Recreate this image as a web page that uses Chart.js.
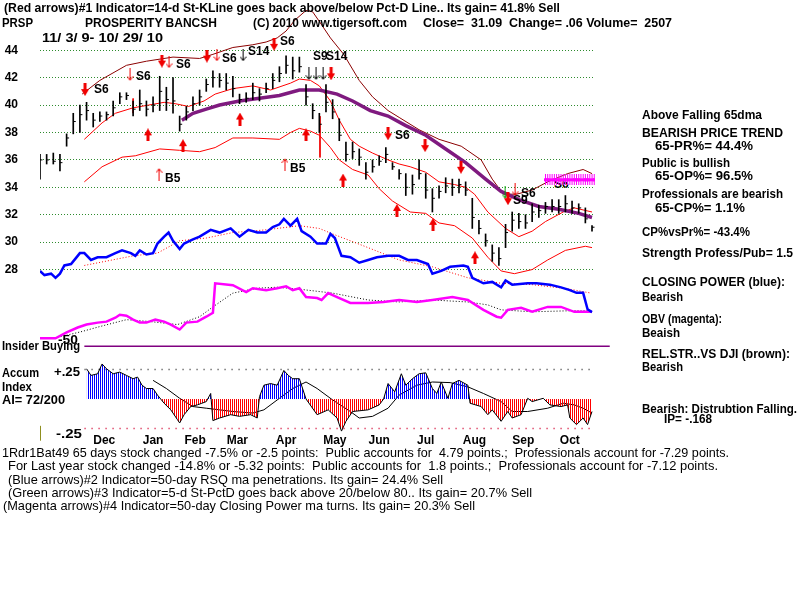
<!DOCTYPE html>
<html>
<head>
<meta charset="utf-8">
<script src="https://cdn.jsdelivr.net/npm/chart.js@4/dist/chart.umd.min.js"></script>
<style>
  body { margin: 0; background: #fff; }
  #wrap { position: relative; width: 800px; height: 600px; overflow: hidden; font-family: "Liberation Sans", Arial, sans-serif; }
  #chart { position: absolute; left: 0; top: 0; }
  .t { position: absolute; white-space: pre; font-weight: bold; font-size: 13px; line-height: 13px; color: #000; transform-origin: 0 0; }
  .n { font-weight: normal; font-family: "Liberation Sans Narrow", "Liberation Sans", sans-serif; }
  .lab { font-size: 12px; }
</style>
</head>
<body>
<div id="wrap">
  <div class="t lab" style="left:554px;top:178px">S6</div>
  <canvas id="chart" width="800" height="600"></canvas>

  <div class="t" style="left:4px;top:1px" data-w="556">(Red arrows)#1 Indicator=14-d St-KLine goes back above/below Pct-D Line.. Its gain= 41.8% Sell</div>
  <div class="t" style="left:2px;top:16px" data-w="31">PRSP</div>
  <div class="t" style="left:85px;top:16px" data-w="132">PROSPERITY BANCSH</div>
  <div class="t" style="left:253px;top:16px" data-w="154">(C) 2010 www.tigersoft.com</div>
  <div class="t" style="left:423px;top:16px" data-w="249">Close=  31.09  Change= .06 Volume=  2507</div>
  <div class="t" style="left:42px;top:31px" data-w="121">11/ 3/ 9- 10/ 29/ 10</div>

  <div class="t" style="left:642px;top:108px" data-w="120">Above Falling 65dma</div>
  <div class="t" style="left:642px;top:126px" data-w="141">BEARISH PRICE TREND</div>
  <div class="t" style="left:655px;top:139px" data-w="98">65-PR%= 44.4%</div>
  <div class="t" style="left:642px;top:156px" data-w="88">Public is bullish</div>
  <div class="t" style="left:655px;top:169px" data-w="98">65-OP%= 96.5%</div>
  <div class="t" style="left:642px;top:187px" data-w="141">Professionals are bearish</div>
  <div class="t" style="left:655px;top:201px" data-w="90">65-CP%= 1.1%</div>
  <div class="t" style="left:642px;top:225px" data-w="108">CP%vsPr%= -43.4%</div>
  <div class="t" style="left:642px;top:246px" data-w="151">Strength Profess/Pub= 1.5</div>
  <div class="t" style="left:642px;top:275px" data-w="143">CLOSING POWER (blue):</div>
  <div class="t" style="left:642px;top:290px" data-w="41">Bearish</div>
  <div class="t" style="left:642px;top:312px" data-w="80">OBV (magenta):</div>
  <div class="t" style="left:642px;top:326px" data-w="38">Beaish</div>
  <div class="t" style="left:642px;top:347px" data-w="148">REL.STR..VS DJI (brown):</div>
  <div class="t" style="left:642px;top:360px" data-w="41">Bearish</div>
  <div class="t" style="left:642px;top:402px" data-w="155">Bearish: Distrubtion Falling.</div>
  <div class="t" style="left:664px;top:412px" data-w="48">IP= -.168</div>

  <div class="t" style="left:2px;top:339px" data-w="78">Insider Buying</div>
  <div class="t" style="left:58px;top:333px" data-w="20">-50</div>
  <div class="t" style="left:2px;top:366px" data-w="37">Accum</div>
  <div class="t" style="left:2px;top:380px" data-w="30">Index</div>
  <div class="t" style="left:2px;top:393px" data-w="63">AI= 72/200</div>
  <div class="t" style="left:54px;top:365px" data-w="26">+.25</div>
  <div class="t" style="left:56px;top:427px" data-w="26">-.25</div>

  <div class="t n" style="left:2px;top:446px" data-w="727">1Rdr1Bat49 65 days stock changed -7.5% or -2.5 points:  Public accounts for  4.79 points.;  Professionals account for -7.29 points.</div>
  <div class="t n" style="left:8px;top:459px" data-w="710">For Last year stock changed -14.8% or -5.32 points:  Public accounts for  1.8 points.;  Professionals account for -7.12 points.</div>
  <div class="t n" style="left:8px;top:473px" data-w="435">(Blue arrows)#2 Indicator=50-day RSQ ma penetrations. Its gain= 24.4% Sell</div>
  <div class="t n" style="left:8px;top:486px" data-w="524">(Green arrows)#3 Indicator=5-d St-PctD goes back above 20/below 80.. Its gain= 20.7% Sell</div>
  <div class="t n" style="left:3px;top:499px" data-w="472">(Magenta arrows)#4 Indicator=50-day Closing Power ma turns. Its gain= 20.3% Sell</div>

  <div class="t lab" style="left:94px;top:83px">S6</div>
  <div class="t lab" style="left:136px;top:70px">S6</div>
  <div class="t lab" style="left:176px;top:58px">S6</div>
  <div class="t lab" style="left:222px;top:52px">S6</div>
  <div class="t lab" style="left:248px;top:45px">S14</div>
  <div class="t lab" style="left:280px;top:35px">S6</div>
  <div class="t lab" style="left:313px;top:50px">S9</div>
  <div class="t lab" style="left:326px;top:50px">S14</div>
  <div class="t lab" style="left:395px;top:129px">S6</div>
  <div class="t lab" style="left:521px;top:187px">S6</div>
  <div class="t lab" style="left:513px;top:194px">S9</div>
  <div class="t lab" style="left:165px;top:172px">B5</div>
  <div class="t lab" style="left:290px;top:162px">B5</div>
</div>

<script>
// price bars, one every 3 trading days starting 11/3/09
const DAY_STEP = 3;
const barHigh = [36.4,36.4,36.5,36.4,37.9,39.4,40.0,40.2,39.4,39.5,39.5,40.3,40.9,40.9,40.3,41.1,40.3,40.6,42.1,41.3,
  42.0,39.2,39.9,40.6,41.1,41.9,42.5,42.3,42.3,42.1,40.8,40.9,41.6,41.2,41.6,42.3,42.8,43.6,43.5,43.5,
  41.5,40.1,39.4,41.5,40.4,39.0,37.3,37.3,36.8,35.8,36.0,36.3,36.9,35.8,35.3,35.0,34.9,36.0,35.0,33.9,
  34.1,34.7,34.6,34.6,34.4,33.2,31.6,30.6,29.8,29.6,31.3,32.2,32.1,32.0,32.8,32.7,32.9,33.1,33.1,33.4,
  33.0,32.8,32.5,31.2];
const barLow = [34.6,35.7,35.7,35.2,37.0,37.9,38.0,38.9,38.4,38.8,38.9,39.2,40.1,40.4,39.2,39.6,39.2,39.5,39.6,39.6,
  39.4,38.1,38.9,39.6,40.0,41.0,41.3,41.3,41.1,40.6,40.1,40.2,40.4,40.3,40.9,41.2,41.7,42.3,41.9,42.4,
  40.0,39.0,38.0,39.5,39.0,37.4,35.9,36.1,35.6,34.6,35.1,35.6,35.8,35.3,34.6,33.4,33.5,34.6,33.2,32.2,
  33.2,33.6,33.4,33.6,33.4,31.0,30.6,29.7,28.6,28.3,29.6,30.8,31.0,31.0,31.5,31.8,32.1,32.2,32.1,32.2,
  32.1,32.1,31.4,30.8];
const barClose = [36.0,36.0,35.9,35.8,37.6,38.8,39.3,39.6,38.9,39.2,39.3,39.8,40.6,40.7,39.7,40.1,39.7,40.0,41.0,40.4,
  40.3,38.6,39.5,40.1,40.6,41.5,42.0,41.8,41.6,41.2,40.4,40.5,40.9,40.8,41.2,41.8,42.3,42.9,42.5,42.8,
  40.6,39.6,38.6,40.2,39.5,37.8,36.4,36.6,36.2,35.1,35.5,35.9,36.4,35.5,35.0,34.0,34.2,35.0,33.8,33.2,
  33.7,34.1,34.0,34.2,33.8,31.8,31.0,30.1,29.2,28.8,30.7,31.6,31.5,31.4,32.2,32.3,32.6,32.6,32.6,32.8,
  32.5,32.5,31.7,31.09];

const upperDays = [19,27,39,48,60,72,78,87,96,102,107,111,115,120,123,126,131,137,144,150,157,162,171,180,190,199,204,209,215,222,229,238,245,249];
const upperVals = [40.8,41.8,42.9,43.2,43.5,43.4,43.7,44.2,44.4,44.6,44.9,45.4,46.2,46.9,46.8,46.1,44.9,43.7,41.8,40.6,39.6,39.1,38.2,37.5,37.0,36.0,34.6,33.5,33.5,33.8,34.4,35.0,35.3,35.0];
const midDays = [20,28,34,42,49,56,61,67,74,79,87,96,104,113,117,122,126,131,135,140,144,150,157,162,167,174,180,187,192,196,202,210,216,222,228,236,241,249];
const midVals = [37.5,38.7,39.4,39.8,40.0,40.2,40.1,39.9,40.3,40.8,41.2,41.4,41.1,41.6,41.9,41.8,41.4,40.3,38.9,37.5,37.0,36.5,36.0,35.7,35.5,35.1,34.4,34.2,34.0,33.5,32.2,31.0,30.4,30.8,31.5,32.2,32.5,32.2];
const lowerDays = [20,28,37,43,54,63,72,79,87,96,108,113,117,122,126,131,135,141,148,153,159,167,174,180,187,195,202,208,214,222,229,237,246,249];
const lowerVals = [34.4,35.5,36.2,36.3,36.8,36.7,36.6,36.9,37.6,37.6,37.5,38.0,38.3,38.1,37.8,36.9,36.0,35.3,34.9,33.9,33.0,32.2,32.1,31.4,31.2,30.3,28.9,27.9,27.7,28.0,28.7,29.4,29.7,29.6];
const ma65Days = [64,69,75,81,90,99,108,117,126,134,141,149,157,165,174,183,192,201,208,216,225,234,243,249];
const ma65Vals = [38.9,39.4,39.7,40.0,40.3,40.5,40.7,41.1,41.1,40.8,40.3,39.6,39.2,38.5,37.8,36.8,35.8,34.6,33.7,33.1,32.6,32.4,32.1,31.8];

// closing power (blue) and its ma
const cpDays = [0,2,5,7,9,11,14,16,18,20,23,26,30,34,37,41,43,45,48,51,53,56,58,60,63,65,69,72,77,81,86,90,94,98,102,105,108,110,113,116,
  118,122,125,129,131,133,136,140,144,148,152,157,162,166,170,175,177,181,185,191,193,195,200,204,208,210,213,220,224,230,235,239,242,245,247,249];
const cpVals = [27.9,27.6,27.7,27.4,27.7,28.3,28.4,28.8,29.2,29.2,28.7,28.9,28.9,29.2,29.4,29.2,29.0,29.4,29.1,29.2,29.9,30.4,30.7,30.1,29.5,29.9,30.2,30.4,30.9,30.7,
  31.0,30.4,30.9,30.7,30.7,31.1,31.3,31.7,31.2,31.7,30.8,30.4,29.9,29.9,30.6,30.3,29.0,28.9,28.5,28.7,28.9,29.0,29.0,28.7,28.7,28.4,27.7,27.9,28.2,28.3,
  28.2,27.4,27.0,27.1,26.7,27.2,26.9,27.0,27.0,26.9,26.7,26.5,26.3,26.3,25.1,24.9];
const cpMaDays = [20,42,53,63,75,87,102,117,126,132,148,162,177,193,208,222,238,248];
const cpMaVals = [28.3,29.0,29.2,30.1,30.3,30.7,30.9,31.2,31.0,30.6,29.6,28.7,28.2,27.4,27.0,26.9,26.6,26.3];

// OBV (magenta) and its ma
const obvDays = [0,7,12,17,21,26,30,34,36,39,42,45,48,52,56,59,63,66,71,75,78,79,87,93,96,102,107,111,114,117,120,125,127,130,134,140,148,155,162,170,177,186,193,200,206,208,211,217,222,229,235,241,249];
const obvVals = [0.6,0.6,1.2,1.7,2.0,2.2,2.3,2.7,3.0,2.9,2.5,2.2,2.2,2.5,2.3,2.0,1.5,2.2,2.3,2.8,3.2,6.2,6.0,5.3,5.7,5.5,5.7,5.9,5.5,5.7,4.8,4.7,4.5,5.2,4.8,4.2,4.2,4.3,4.5,4.3,4.5,4.8,4.5,3.5,2.8,2.7,3.5,3.7,3.3,3.8,3.8,3.3,3.3];
const obvMaDays = [8,19,27,39,50,62,72,78,87,98,107,117,132,148,162,177,193,202,208,222,238,249];
const obvMaVals = [0.7,1.3,1.8,2.5,2.3,2.0,2.8,3.8,5.2,5.7,5.8,5.6,5.2,4.5,4.3,4.5,4.3,4.0,3.5,3.3,3.4,3.4];

// relative strength vs DJI (black) and its ma
const rsDays = [11,17,27,35,41,45,48,53,54,57,60,63,66,72,77,81,87,92,98,105,113,117,122,126,130,135,148,157,159,164,168,175,177,182,190,194,195,202,208,211,220,229,238,244,249];
const rsVals = [52,52,53,54,52,52,51,52,60,57,56,54,56,57,59,57,57,52,53,54,55,49,47,47,52,49,46,43,41,46,42,42,39,36,36,36,30,29,26,30,29,30,29,26,24];
const rsMaDays = [53,72,87,102,117,132,148,162,177,193,208,222,238,249];
const rsMaVals = [52,56,57,56,54,50,47,46,41,34,31,30,30,27];

// accumulation index
const aiDays = [21,23,26,28,30,33,36,39,42,44,46,48,51,53,56,59,62,63,65,68,71,73,75,77,78,81,86,90,95,98,99,101,104,107,110,112,114,117,120,125,
  130,134,136,138,141,148,153,155,157,160,163,165,168,171,174,177,179,181,184,186,189,193,194,199,202,204,208,211,213,217,220,222,227,230,235,238,239,242,245,247,249];
const aiVals = [0.256,0.20,0.214,0.297,0.256,0.214,0.228,0.20,0.172,0.186,0.117,0.089,0.089,0.033,-0.036,-0.092,-0.175,-0.203,-0.133,-0.064,
  -0.05,-0.036,-0.022,0.047,-0.183,-0.161,-0.133,-0.147,-0.133,-0.161,0.02,0.117,0.131,0.117,0.242,0.20,0.172,0.172,0.0,-0.133,
  -0.092,-0.161,-0.272,-0.189,-0.106,-0.092,-0.05,0.0,0.131,0.061,0.214,0.117,0.172,0.214,0.222,0.089,0.047,0.144,0.006,0.131,
  0.158,0.117,-0.036,-0.064,-0.133,-0.092,-0.189,-0.106,-0.161,-0.133,0.006,-0.022,0.006,-0.05,-0.064,-0.05,-0.161,-0.217,-0.161,-0.217,-0.106];
const aiMaDays = [51,57,63,69,75,81,87,96,101,108,114,120,125,132,140,144,150,157,162,170,177,185,193,200,208,213,220,229,236,241,245,249];
const aiMaVals = [0.158,0.089,0.006,-0.064,-0.078,-0.092,-0.106,-0.119,-0.092,0.006,0.089,0.144,0.089,-0.008,-0.106,-0.161,-0.147,-0.078,0.033,0.117,
  0.144,0.139,0.103,0.047,-0.022,-0.106,-0.106,-0.078,-0.036,-0.05,-0.078,-0.119];

// signal arrows (day, price)
const sellDays = [20.3,55.0,75.3,105.6,131.3,157.0,173.7,189.9,211.1];
const sellPrices = [41.13,43.21,43.57,44.43,42.28,37.90,37.04,35.46,33.17];
const thinSellDays = [40.6,58.2,79.8,214.3];
const thinSellPrices = [42.21,43.14,43.64,33.81];
const blackSellDays = [91.6,121.3,124.5,127.7];
const blackSellPrices = [43.64,42.28,42.28,42.28];
const buyDays = [48.7,64.5,90.2,120.0,136.7,161.0,177.3,196.2];
const buyPrices = [37.83,37.04,38.98,37.83,34.53,32.31,31.30,28.86];
const thinBuyDays = [53.7,110.5];
const thinBuyPrices = [34.96,35.68];
const greenDays = [209.8];
const greenPrices = [33.6];
const magentaDays = [228,229,230,231,232,233,234,235,236,237,238,239,240,241,242,243,244,245,246,247,248,249,250];
const magentaPrice = 34.55;

const priceTicks = [28,30,32,34,36,38,40,42,44];
const monthTickDays = [29,51,70,89,111,133,153,174,196,218,239];
const monthLabels = ["Dec","Jan","Feb","Mar","Apr","May","Jun","Jul","Aug","Sep","Oct"];

const pts = (days, vals) => days.map((d, i) => ({ x: d, y: vals[i] }));

function barDaysOf(arr) {
  return arr.map((_, i) => i * DAY_STEP);
}

function arrowImg(color, kind) {
  const c = document.createElement("canvas");
  const g = c.getContext("2d");
  if (kind === "thickDown" || kind === "thickUp") {
    c.width = 8; c.height = 13;
    g.fillStyle = color;
    if (kind === "thickUp") { g.translate(0, 13); g.scale(1, -1); }
    g.fillRect(2.5, 0, 3, 7);
    g.beginPath(); g.moveTo(0, 6); g.lineTo(8, 6); g.lineTo(4, 13); g.closePath(); g.fill();
  } else if (kind === "hatch") {
    c.width = 3; c.height = 11;
    g.fillStyle = color;
    g.fillRect(1, 0, 1, 11);
    g.fillRect(0, 4, 3, 3);
  } else {
    c.width = 7; c.height = 13;
    g.strokeStyle = color; g.lineWidth = 1;
    if (kind === "thinUp") { g.translate(0, 13); g.scale(1, -1); }
    g.beginPath(); g.moveTo(3.5, 0); g.lineTo(3.5, 12);
    g.moveTo(0.5, 8); g.lineTo(3.5, 12); g.lineTo(6.5, 8); g.stroke();
  }
  return c;
}

function stripes(color) {
  const c = document.createElement("canvas");
  c.width = 2; c.height = 4;
  const g = c.getContext("2d");
  g.fillStyle = color;
  g.fillRect(0, 0, 1, 4);
  return g.createPattern(c, "repeat");
}

function marks(days, prices, img) {
  return {
    type: "line", showLine: false, yAxisID: "y",
    data: Array.isArray(prices) ? pts(days, prices) : days.map(d => ({ x: d, y: prices })),
    pointStyle: img, pointRadius: 4
  };
}

function line(days, vals, axis, color, width, dash) {
  return {
    type: "line", yAxisID: axis, data: pts(days, vals),
    borderColor: color, borderWidth: width, borderDash: dash || [],
    pointRadius: 0, fill: false
  };
}

const datasets = [
  marks(sellDays, sellPrices, arrowImg("#f00000", "thickDown")),
  marks(thinSellDays, thinSellPrices, arrowImg("#f00000", "thinDown")),
  marks(blackSellDays, blackSellPrices, arrowImg("#000", "thinDown")),
  marks(buyDays, buyPrices, arrowImg("#f00000", "thickUp")),
  marks(thinBuyDays, thinBuyPrices, arrowImg("#f00000", "thinUp")),
  marks(greenDays, greenPrices, arrowImg("#00a000", "thinDown")),
  marks(magentaDays, magentaPrice, arrowImg("#ff00ff", "hatch")),
  {
    type: "line", showLine: false, yAxisID: "y",
    data: pts(barDaysOf(barClose), barClose),
    pointStyle: "dash", pointRadius: 2.5, pointBorderColor: "#000", pointBorderWidth: 1
  },
  {
    type: "bar", yAxisID: "y",
    data: barDaysOf(barHigh).map((d, i) => ({ x: d, y: [barLow[i], barHigh[i]] })),
    backgroundColor: "#000", borderWidth: 0, barThickness: 1
  },
  line([42, 42], [40.48, 39.41], "y", "#f00000", 1),
  line([126.3, 126.3], [39.19, 36.18], "y", "#f00000", 1),
  line(ma65Days, ma65Vals, "y", "#7f1a7f", 3.5),
  line(midDays, midVals, "y", "#ff0000", 1),
  line(upperDays, upperVals, "y", "#8b0000", 1),
  line(lowerDays, lowerVals, "y", "#ff0000", 1),
  line(cpDays, cpVals, "y", "#0000ff", 2.5),
  line(cpMaDays, cpMaVals, "y", "#ff0000", 1, [1, 2]),
  line(obvDays, obvVals, "obv", "#ff00ff", 2.5),
  line(obvMaDays, obvMaVals, "obv", "#000", 1, [1, 2]),
  line(rsDays, rsVals, "rs", "#000", 2.5),
  line(rsMaDays, rsMaVals, "rs", "#ff0000", 1, [1, 2]),
  line([20, 250], [50, 50], "rs", "#909090", 1, [3, 10]),
  Object.assign(line([20, 257], [0, 0], "ins", "#800080", 1.5), { clip: false }),
  Object.assign(line(aiDays, aiVals, "ai", "#000", 1), {
    fill: { target: "origin", above: stripes("#0000ff"), below: stripes("#ff0000") }
  }),
  line(aiMaDays, aiMaVals, "ai", "#000", 1),
  line([20, 250], [0.25, 0.25], "ai", "#777", 1.5, [1.5, 5.5]),
  line([20, 250], [-0.25, -0.25], "ai", "#e05070", 1.5, [1.5, 5.5]),
  line([0, 0], [-0.228, -0.352], "ai", "#808000", 1)
];

new Chart(document.getElementById("chart"), {
  type: "line",
  data: { datasets },
  options: {
    responsive: false,
    animation: false,
    devicePixelRatio: 1,
    events: [],
    layout: { padding: { left: 0, right: 205, top: 0, bottom: 0 } },
    plugins: { legend: { display: false }, tooltip: { enabled: false } },
    elements: { line: { tension: 0 } },
    scales: {
      x: {
        type: "linear", min: 0, max: 250.35, offset: false,
        position: { ai: -0.25 },
        grid: { display: false }, border: { display: false },
        afterBuildTicks: s => { s.ticks = monthTickDays.map(v => ({ value: v })); },
        ticks: {
          autoSkip: false, maxRotation: 0, padding: -3, color: "#000",
          font: { family: "Liberation Sans", weight: "bold", size: 12 },
          callback: v => monthLabels[monthTickDays.indexOf(v)]
        }
      },
      y: {
        type: "linear", position: "left", min: 4.26, max: 47.30,
        afterBuildTicks: s => { s.ticks = priceTicks.map(v => ({ value: v })); },
        afterFit: s => { s.width = 40; s.paddingTop = 0; s.paddingBottom = 0; },
        grid: { color: "#2e8b2e", lineWidth: 1, drawTicks: false },
        border: { display: false, dash: [1, 2] },
        ticks: { color: "#000", padding: 22, font: { family: "Liberation Sans", weight: "bold", size: 12 } }
      },
      obv: { type: "linear", display: false, min: -25.5, max: 34.5 },
      rs: { type: "linear", display: false, min: -211, max: 389 },
      ins: { type: "linear", display: false, min: -253, max: 347 },
      ai: { type: "linear", display: false, min: -1.661, max: 3.339 }
    }
  }
});

document.querySelectorAll("[data-w]").forEach(el => {
  const w = el.getBoundingClientRect().width;
  el.style.transform = "scaleX(" + (el.dataset.w / w) + ")";
});
</script>
</body>
</html>
